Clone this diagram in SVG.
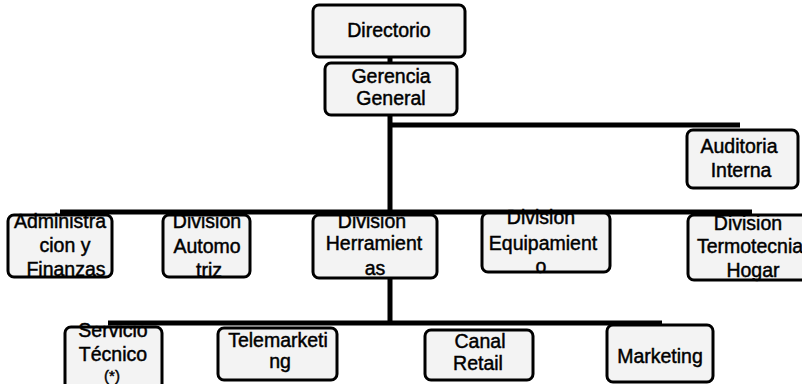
<svg xmlns="http://www.w3.org/2000/svg" width="802" height="384" viewBox="0 0 802 384">
<style>
.box{fill:#f3f3f3;stroke:#000;stroke-width:3}
.t{font-family:"Liberation Sans",Arial,sans-serif;font-size:19.5px;fill:#000;stroke:#000;stroke-width:0.45;text-anchor:middle}
.ln{stroke:#000;stroke-width:5;fill:none}
</style>
<rect width="802" height="384" fill="#fff"/>
<g id="connectors">
<line class="ln" x1="390" y1="57" x2="390" y2="64"/>
<line class="ln" x1="390" y1="114" x2="390" y2="325"/>
<line class="ln" x1="388" y1="125" x2="740" y2="125"/>
<line class="ln" x1="60" y1="212" x2="752" y2="212"/>
<line class="ln" x1="108" y1="323" x2="662" y2="323"/>
</g>
<g id="directorio"><rect class="box" x="313" y="5" width="152" height="52" rx="6"/><text class="t" x="389" y="37">Directorio</text></g>
<g id="gerencia"><rect class="box" x="325" y="63" width="132" height="52" rx="6"/><text class="t" x="391" y="83">Gerencia</text><text class="t" x="391" y="105">General</text></g>
<g id="auditoria"><rect class="box" x="687" y="130" width="111" height="58" rx="6"/><text class="t" x="739" y="153">Auditoria</text><text class="t" x="741" y="177">Interna</text></g>
<g id="administracion"><rect class="box" x="8" y="215" width="104" height="62" rx="6"/><text class="t" x="60" y="228">Administra</text><text class="t" x="65" y="252">cion y</text><text class="t" x="66" y="276">Finanzas</text></g>
<g id="automotriz"><rect class="box" x="163" y="215" width="87" height="62" rx="6"/><text class="t" x="207" y="228">Division</text><text class="t" x="207" y="253">Automo</text><text class="t" x="209" y="277">triz</text></g>
<g id="herramientas"><rect class="box" x="313" y="215" width="124" height="63" rx="6"/><text class="t" x="372" y="228">Division</text><text class="t" x="374" y="250">Herramient</text><text class="t" x="375" y="275">as</text></g>
<g id="equipamiento"><rect class="box" x="482" y="213" width="128" height="59" rx="6"/><text class="t" x="541" y="224">Division</text><text class="t" x="543" y="250">Equipamient</text><text class="t" x="541" y="273">o</text></g>
<g id="termotecnia"><rect class="box" x="688" y="215" width="120" height="65" rx="6"/><text class="t" x="748" y="230">Division</text><text class="t" x="750" y="253">Termotecnia</text><text class="t" x="753" y="277">Hogar</text></g>
<g id="servicio"><rect class="box" x="65" y="327" width="97" height="64" rx="6"/><text class="t" x="113" y="337">Servicio</text><text class="t" x="113" y="361">Técnico</text><text class="t" x="112" y="381" style="font-size:15px">(*)</text></g>
<g id="telemarketing"><rect class="box" x="218" y="328" width="119" height="52" rx="6"/><text class="t" x="278" y="347">Telemarketi</text><text class="t" x="280" y="368">ng</text></g>
<g id="canal"><rect class="box" x="425" y="330" width="108" height="50" rx="6"/><text class="t" x="480" y="348">Canal</text><text class="t" x="478" y="370">Retail</text></g>
<g id="marketing"><rect class="box" x="607" y="325" width="106" height="57" rx="6"/><text class="t" x="660" y="363">Marketing</text></g>
</svg>
